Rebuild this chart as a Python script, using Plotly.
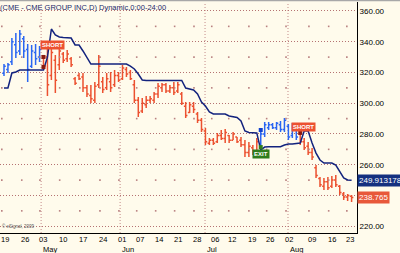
import plotly.graph_objects as go

# ---------------- data ----------------
side = ["L"] * 10 + ["S"] * 55 + ["L"] * 10 + ["S"] * 14

highs = [325.5, 326.2, 342.4, 345.7, 347.6, 343.7, 338.5, 337.9, 338.5, 337.2,
         331.4, 335.9, 336.6, 331.4, 337.2, 333.3, 334.6, 330.1, 317.1, 319.7,
         319.7, 311.9, 311.9, 313.8, 331.4, 317.1, 319.7, 320.3, 321.6, 320.3,
         324.9, 323.6, 321.6, 315.1, 304.1, 303.4, 304.7, 304.7, 307.3, 313.2,
         313.2, 313.2, 311.9, 313.8, 313.8, 307.3, 300.8, 300.8, 300.8, 294.3,
         290.4, 283.9, 277.4, 277.4, 280.7, 282.6, 283.3, 279.3, 281.3, 278.0,
         278.0, 276.1, 274.8, 272.8, 277.4, 282.0, 287.8, 287.8, 287.2, 287.8,
         288.5, 290.4, 286.5, 287.2, 285.9, 281.3, 277.4, 274.8, 270.9, 259.8,
         252.0, 251.4, 252.0, 252.7, 253.3, 246.8, 242.3, 241.0, 240.3]
lows = [317.7, 319.7, 324.9, 329.4, 331.4, 329.4, 313.8, 322.9, 324.9, 326.8,
        321.6, 304.7, 315.1, 306.7, 321.6, 326.2, 326.8, 323.6, 311.9, 315.1,
        307.3, 304.1, 300.2, 300.2, 309.9, 306.7, 308.6, 307.3, 310.6, 313.8,
        315.1, 317.1, 315.1, 300.2, 291.1, 293.7, 296.9, 300.2, 300.2, 303.4,
        307.3, 306.7, 306.7, 305.4, 306.7, 298.9, 290.4, 293.7, 293.7, 287.2,
        281.3, 272.8, 272.8, 272.8, 274.1, 276.1, 274.1, 274.1, 276.1, 274.1,
        271.5, 265.0, 265.0, 266.3, 267.6, 271.5, 278.0, 282.6, 283.3, 282.6,
        281.3, 281.3, 276.1, 277.4, 276.1, 272.8, 269.6, 266.3, 263.1, 251.4,
        245.5, 243.6, 243.6, 244.9, 245.5, 240.3, 237.1, 236.4, 235.8]
opens = [319.5, 322.0, 327.0, 338.0, 334.0, 342.0, 335.0, 324.0, 333.0, 330.0,
         330.0, 330.0, 318.0, 328.0, 325.0, 332.0, 329.0, 329.0, 316.0, 318.0,
         317.0, 310.0, 305.0, 302.0, 312.0, 314.0, 310.0, 314.0, 312.0, 318.0,
         316.0, 322.0, 320.0, 312.0, 302.0, 295.0, 299.0, 302.0, 302.0, 306.0,
         310.0, 312.0, 308.0, 310.0, 308.0, 306.0, 298.0, 294.0, 298.0, 293.0,
         289.0, 282.0, 274.0, 276.0, 275.0, 279.0, 277.0, 279.0, 276.0, 278.0,
         276.0, 273.0, 268.0, 271.0, 268.0, 273.0, 280.0, 284.0, 286.0, 284.0,
         286.0, 283.0, 285.0, 279.0, 284.0, 280.0, 275.0, 272.0, 268.0, 258.0,
         251.0, 246.0, 249.0, 246.0, 250.0, 246.0, 241.0, 239.0, 239.5]
closes = [324.0, 325.0, 340.0, 333.0, 345.0, 334.0, 322.0, 334.0, 329.0, 335.0,
          324.0, 312.0, 333.0, 315.0, 334.0, 328.0, 332.0, 325.0, 313.0, 316.0,
          310.0, 306.0, 303.0, 311.0, 324.0, 309.0, 316.0, 310.0, 318.0, 315.0,
          323.0, 319.0, 316.0, 302.0, 294.0, 300.0, 302.0, 303.0, 306.0, 311.0,
          312.0, 308.0, 310.0, 307.0, 312.0, 300.0, 292.0, 299.0, 296.0, 289.0,
          283.0, 275.0, 276.0, 274.0, 279.0, 277.0, 281.0, 276.0, 280.0, 275.0,
          273.0, 268.0, 272.0, 267.0, 275.0, 280.0, 286.0, 286.0, 284.0, 287.0,
          283.0, 289.0, 278.0, 285.0, 278.0, 275.0, 271.0, 268.0, 265.0, 253.0,
          247.0, 249.0, 245.0, 250.0, 247.0, 242.0, 239.0, 240.0, 238.765]
dynamic = [309.9, 309.9, 319.7, 320.3, 321.6, 321.6, 321.6, 321.6, 321.6, 321.6,
           321.6, 330.0, 348.3, 344.4, 343.1, 342.8, 342.4, 342.4, 337.9, 337.9,
           334.0, 329.4, 325.5, 325.5, 325.5, 325.5, 325.5, 325.5, 325.5, 325.5,
           325.5, 325.5, 324.2, 322.3, 319.0, 315.1, 314.8, 314.8, 314.8, 314.8,
           314.8, 314.8, 314.8, 314.8, 314.8, 314.8, 309.9, 309.3, 308.6, 306.0,
           300.8, 298.2, 294.3, 293.0, 293.0, 293.0, 293.0, 291.7, 291.1, 290.7,
           288.5, 282.0, 281.0, 280.7, 280.7, 269.6, 271.5, 271.7, 271.7, 271.7,
           271.7, 272.8, 273.5, 273.5, 273.8, 274.1, 282.0, 282.0, 274.1, 267.6,
           263.1, 261.1, 261.1, 261.1, 259.8, 255.3, 251.4, 250.1, 249.913178]

tick_pos = [0.25, 5.3, 9.9, 14.9, 20.0, 25.1, 29.9, 34.4, 39.2, 44.0, 48.9,
            53.4, 57.7, 62.8, 67.3, 72.2, 78.0, 83.0, 87.6]
tick_labels = ["19", "26", "03", "10", "17", "24", "01", "07", "14", "21", "28",
               "06", "12", "19", "26", "02", "09", "16", "23"]
month_pos = [9.4, 29.4, 50.9, 71.9]
month_labels = ["May", "Jun", "Jul", "Aug"]
price_ticks = [360, 340, 320, 300, 280, 260, 240, 220]
price_tick_text = ["360.00", "340.00", "320.00", "300.00", "280.00", "260.00", "", "220.00"]
half_levels = [350, 330, 310, 290, 270, 250, 230]

signals = [  # (bar index, price, label, kind)
    (12.4, 337.9, "SHORT", "S"),
    (75.9, 284.75, "SHORT", "S"),
    (65.0, 266.7, "EXIT", "X"),
]
marks_short = ([10, 10, 75], [330.1, 323.6, 280.7])
mark_long = ([65], [282.6])
mark_exit = ([65], [271.5])

dyn_last = 249.913178
last_close = 238.765
title = "(CME - CME GROUP INC,D) Dynamic,0:00-24:00"

# ---------------- styles ----------------
BG = "#fffbec"
RED = "#ec5130"
BLUE = "#2a66f2"
NAVY = "#13237e"
GRID = "#b57272"
FONT = "Liberation Sans"

x = list(range(len(highs)))


def subset(flag):
    idx = [i for i in x if side[i] == flag]
    return dict(x=idx,
                open=[opens[i] for i in idx], high=[highs[i] for i in idx],
                low=[lows[i] for i in idx], close=[closes[i] for i in idx])


fig = go.Figure()

# sparse dot grid
fig.add_trace(go.Scatter(
    x=[p - 0.8 for p in tick_pos for _ in half_levels],
    y=[lv for _ in tick_pos for lv in half_levels],
    mode="markers", marker=dict(symbol="square", size=1.6, color="#b98080", line_width=0),
    hoverinfo="skip", showlegend=False))

for flag, col in (("L", BLUE), ("S", RED)):
    d = subset(flag)
    fig.add_trace(go.Ohlc(**d, increasing=dict(line=dict(color=col, width=1.5)),
                          decreasing=dict(line=dict(color=col, width=1.5)),
                          tickwidth=0.45, hoverinfo="skip", showlegend=False))

fig.add_trace(go.Scatter(x=x, y=dynamic, mode="lines",
                         line=dict(color=NAVY, width=1.5),
                         hoverinfo="skip", showlegend=False))

fig.add_trace(go.Scatter(x=marks_short[0], y=marks_short[1], mode="markers",
                         marker=dict(symbol="square", size=4, color="#8a1a10"),
                         hoverinfo="skip", showlegend=False))
fig.add_trace(go.Scatter(x=mark_long[0], y=mark_long[1], mode="markers",
                         marker=dict(symbol="square", size=4, color="#1040d0"),
                         hoverinfo="skip", showlegend=False))
fig.add_trace(go.Scatter(x=mark_exit[0], y=mark_exit[1], mode="markers",
                         marker=dict(symbol="square", size=4, color="#2f7d1d"),
                         hoverinfo="skip", showlegend=False))

shapes = []
for mp in month_pos:
    shapes.append(dict(type="line", xref="x", yref="paper", x0=mp, x1=mp, y0=0, y1=1,
                       line=dict(color="#c48a8a", width=1, dash="1px,2px"), layer="below"))
# window border line
shapes.append(dict(type="line", xref="paper", yref="paper", x0=-0.01, x1=1.2, y0=1.008, y1=1.008,
                   line=dict(color="#a8a8a8", width=2)))

annotations = []
for bi, pr, txt, kind in signals:
    annotations.append(dict(x=bi, y=pr, xref="x", yref="y", text="<b>%s</b>" % txt,
                            showarrow=False, font=dict(family=FONT, size=6, color="white"),
                            bgcolor=RED if kind == "S" else "#2f7d1d", borderpad=1))
for tp, tl in zip(tick_pos, tick_labels):
    annotations.append(dict(x=tp, y=0, xref="x", yref="paper", text=tl, showarrow=False,
                            xanchor="center", yanchor="middle", yshift=-6.5,
                            font=dict(family=FONT, size=7.5, color="black")))
for mp, ml in zip(month_pos, month_labels):
    annotations.append(dict(x=mp, y=0, xref="x", yref="paper", text=ml, showarrow=False,
                            xanchor="left", yanchor="middle", yshift=-16,
                            font=dict(family=FONT, size=7.5, color="black")))
annotations.append(dict(x=1, y=dyn_last, xref="paper", yref="y", text="%.6f" % dyn_last,
                        showarrow=False, xanchor="left", yanchor="middle", bgcolor="#15307f",
                        font=dict(family=FONT, size=8, color="white"), borderpad=1))
annotations.append(dict(x=1, y=last_close, xref="paper", yref="y", text="%.3f" % last_close,
                        showarrow=False, xanchor="left", yanchor="middle", bgcolor="#e8583a",
                        font=dict(family=FONT, size=8, color="white"), borderpad=1))
annotations.append(dict(x=0, y=1, xref="paper", yref="paper", text=title, showarrow=False,
                        xanchor="left", yanchor="top", xshift=-2, yshift=1,
                        font=dict(family=FONT, size=7.5, color="#1b2a6b")))
annotations.append(dict(x=0, y=0, xref="paper", yref="paper", text="© eSignal, 2009",
                        showarrow=False, xanchor="left", yanchor="bottom", yshift=2,
                        font=dict(family=FONT, size=4.5, color="#555555")))

fig.update_layout(
    width=400, height=253,
    margin=dict(l=0, r=43, t=2, b=20),
    paper_bgcolor=BG, plot_bgcolor=BG,
    shapes=shapes, annotations=annotations,
    xaxis=dict(range=[-1.01, 89.37], showticklabels=False,
               showgrid=False, zeroline=False, showline=True, linecolor="black", linewidth=1,
               ticks="", rangeslider=dict(visible=False), fixedrange=True),
    yaxis=dict(range=[215.6, 365.85], side="right", tickvals=price_ticks,
               ticktext=price_tick_text, showgrid=True, gridcolor=GRID, griddash="1px,2px",
               gridwidth=1, zeroline=False, showline=True, linecolor="black", linewidth=1,
               ticks="", tickfont=dict(family=FONT, size=8, color="black"), fixedrange=True),
)

fig.write_html("out.html")
